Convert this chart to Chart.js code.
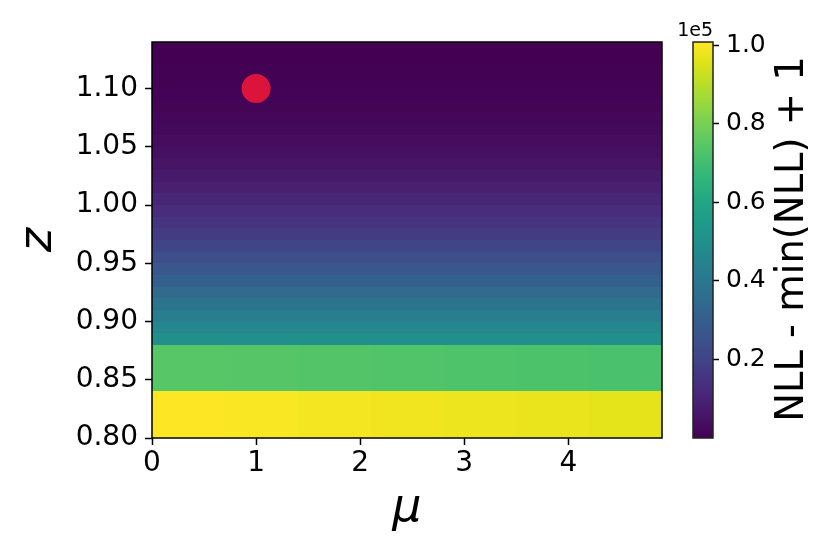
<!DOCTYPE html>
<html>
<head>
<meta charset="utf-8">
<script src="https://cdn.jsdelivr.net/npm/chart.js@4/dist/chart.umd.min.js"></script>
<style>
  html, body { margin: 0; padding: 0; background: #ffffff; }
  #wrap { position: relative; width: 830px; height: 554px; }
  canvas { position: absolute; left: 0; top: 0; }
</style>
</head>
<body>
<div id="wrap">
  <canvas id="main" width="830" height="554"></canvas>
  <canvas id="cbar" width="830" height="554"></canvas>
</div>
<script>
// ---------------- data ----------------
const muEdges = [0, 0.7, 1.4, 2.1, 2.8, 3.5, 4.2, 4.9];
const zEdges = [0.80, 0.84, 0.88, 0.89, 0.90, 0.91, 0.92, 0.93, 0.94, 0.95, 0.96, 0.97,
                0.98, 0.99, 1.00, 1.01, 1.02, 1.03, 1.04, 1.05, 1.06, 1.07, 1.08, 1.09,
                1.10, 1.11, 1.12, 1.13, 1.14];
// NLL - min(NLL) + 1 for the two wide bands (one value per mu column)
const nllRow080 = [100800, 100200, 99500, 98800, 98100, 97400, 96800];
const nllRow084 = [74100, 73800, 73400, 73000, 72600, 72200, 71700];
// rows from z = 0.88 up to 1.13 (uniform along mu)
const nllUpperRows = [49900, 46600, 42800, 38800, 34800, 30700, 27200, 23700, 20700, 17600,
                      15100, 12800, 10600, 8700, 7000, 5400, 4100, 3100, 2300, 1600,
                      1000, 600, 300, 150, 50, 1];
const cbMin = 1;
const cbMax = 100800;
const markerMu = [1.0];
const markerZ = [1.10];
const xTicks = [0, 1, 2, 3, 4];
const xTickLabels = ['0', '1', '2', '3', '4'];
const yTicks = [0.80, 0.85, 0.90, 0.95, 1.00, 1.05, 1.10];
const yTickLabels = ['0.80', '0.85', '0.90', '0.95', '1.00', '1.05', '1.10'];
const cbTicks = [20000, 40000, 60000, 80000, 100000];
const cbTickLabels = ['0.2', '0.4', '0.6', '0.8', '1.0'];
const xTitle = 'μ';
const yTitle = 'z';
const cbTitle = 'NLL - min(NLL) + 1';
const cbOffsetText = '1e5';

// ---------------- colormap ----------------
const viridisStops = ['#440154', '#471365', '#482475', '#463480', '#414487', '#3b528b',
  '#355f8d', '#2f6c8e', '#2a788e', '#25848e', '#21918c', '#1e9c89', '#22a884', '#2fb47c',
  '#44bf70', '#5ec962', '#7ad151', '#9bd93c', '#bddf26', '#dfe318', '#fde725'];
function hexToRgb(h) {
  return [parseInt(h.slice(1, 3), 16), parseInt(h.slice(3, 5), 16), parseInt(h.slice(5, 7), 16)];
}
const viridisRgb = viridisStops.map(hexToRgb);
function viridis(t) {
  t = Math.max(0, Math.min(1, t));
  const n = viridisRgb.length - 1;
  const p = t * n;
  const i = Math.min(n - 1, Math.floor(p));
  const f = p - i;
  const a = viridisRgb[i], b = viridisRgb[i + 1];
  const c = [0, 1, 2].map(k => Math.round(a[k] + (b[k] - a[k]) * f));
  return 'rgb(' + c.join(',') + ')';
}
function colorFor(v) { return viridis((v - cbMin) / (cbMax - cbMin)); }

// build grid rows
const gridRows = [];
for (let r = 0; r < zEdges.length - 1; r++) {
  let vals;
  if (r === 0) vals = nllRow080;
  else if (r === 1) vals = nllRow084;
  else vals = muEdges.slice(0, -1).map(() => nllUpperRows[r - 2]);
  gridRows.push(vals);
}

Chart.defaults.font.family = "'DejaVu Sans', 'Noto Sans', sans-serif";
Chart.defaults.color = '#000';

const heatmapPlugin = {
  id: 'heatmap',
  beforeDatasetsDraw(chart) {
    const { ctx, scales: { x, y } } = chart;
    ctx.save();
    for (let r = 0; r < gridRows.length; r++) {
      const yTop = Math.round(y.getPixelForValue(zEdges[r + 1]));
      const yBot = Math.round(y.getPixelForValue(zEdges[r]));
      for (let c = 0; c < muEdges.length - 1; c++) {
        const xl = Math.round(x.getPixelForValue(muEdges[c]));
        const xr = Math.round(x.getPixelForValue(muEdges[c + 1]));
        ctx.fillStyle = colorFor(gridRows[r][c]);
        ctx.fillRect(xl, yTop, xr - xl, yBot - yTop);
      }
    }
    ctx.restore();
  },
  afterDatasetsDraw(chart) {
    const { ctx, chartArea: a } = chart;
    ctx.save();
    ctx.strokeStyle = '#000';
    ctx.lineWidth = 1.5;
    ctx.strokeRect(a.left, a.top, a.right - a.left, a.bottom - a.top);
    ctx.restore();
  }
};

new Chart(document.getElementById('main'), {
  type: 'scatter',
  data: {
    datasets: [{
      data: markerMu.map((m, i) => ({ x: m, y: markerZ[i] })),
      backgroundColor: '#dc143c',
      borderWidth: 0,
      pointRadius: 14.5,
      pointHoverRadius: 14.5
    }]
  },
  options: {
    responsive: false,
    animation: false,
    events: [],
    layout: { padding: { left: 0, top: 42, right: 168, bottom: 0 } },
    plugins: { legend: { display: false }, tooltip: { enabled: false } },
    scales: {
      x: {
        type: 'linear', min: 0, max: 4.9,
        afterFit: s => { s.height = 116; },
        afterBuildTicks: s => { s.ticks = xTicks.map(v => ({ value: v })); },
        ticks: {
          callback: (v, i) => xTickLabels[i],
          font: { size: 28, lineHeight: 1 }, color: '#000', padding: 5,
          maxRotation: 0, autoSkip: false
        },
        grid: { drawOnChartArea: false, drawTicks: true, tickLength: 7, tickColor: '#000', tickWidth: 1.5, color: '#000' },
        border: { display: false },
        title: {
          display: true, text: xTitle, color: '#000',
          font: { size: 46, style: 'italic', lineHeight: 1 },
          padding: { top: 0, bottom: 22 }
        }
      },
      y: {
        type: 'linear', min: 0.80, max: 1.14,
        afterFit: s => { s.width = 152; },
        afterBuildTicks: s => { s.ticks = yTicks.map(v => ({ value: v })); },
        ticks: {
          callback: (v, i) => yTickLabels[i],
          font: { size: 28, lineHeight: 1 }, color: '#000', padding: 7, autoSkip: false
        },
        grid: { drawOnChartArea: false, drawTicks: true, tickLength: 7, tickColor: '#000', tickWidth: 1.5, color: '#000' },
        border: { display: false },
        title: {
          display: true, text: yTitle, color: '#000',
          font: { size: 46, style: 'italic', lineHeight: 1 },
          padding: { top: 16, bottom: 0 }
        }
      }
    }
  },
  plugins: [heatmapPlugin]
});

const colorbarPlugin = {
  id: 'colorbar',
  beforeDatasetsDraw(chart) {
    const { ctx, chartArea: a, scales: { y } } = chart;
    const y0 = y.getPixelForValue(cbMin);
    const y1 = y.getPixelForValue(cbMax);
    const g = ctx.createLinearGradient(0, y0, 0, y1);
    viridisStops.forEach((c, i) => g.addColorStop(i / (viridisStops.length - 1), c));
    ctx.save();
    ctx.fillStyle = g;
    ctx.fillRect(a.left, a.top, a.right - a.left, a.bottom - a.top);
    ctx.strokeStyle = '#222';
    ctx.lineWidth = 1.5;
    ctx.strokeRect(a.left, a.top, a.right - a.left, a.bottom - a.top);
    // offset text
    ctx.fillStyle = '#000';
    ctx.font = "19px 'DejaVu Sans'";
    ctx.textAlign = 'right';
    ctx.textBaseline = 'alphabetic';
    ctx.fillText(cbOffsetText, a.right, a.top - 6.5);
    // colorbar label
    ctx.translate(803, (a.top + a.bottom) / 2 - 1);
    ctx.rotate(-Math.PI / 2);
    ctx.textAlign = 'center';
    ctx.font = "38.5px 'DejaVu Sans'";
    ctx.fillText(cbTitle, 0, 0);
    ctx.restore();
  }
};

new Chart(document.getElementById('cbar'), {
  type: 'scatter',
  data: { datasets: [{ data: [] }] },
  options: {
    responsive: false,
    animation: false,
    events: [],
    layout: { padding: { left: 693, top: 42, right: 0, bottom: 116 } },
    plugins: { legend: { display: false }, tooltip: { enabled: false } },
    scales: {
      x: { type: 'linear', display: false, min: 0, max: 1 },
      y: {
        type: 'linear', position: 'right', min: cbMin, max: cbMax,
        afterFit: s => { s.width = 117; },
        afterBuildTicks: s => { s.ticks = cbTicks.map(v => ({ value: v })); },
        ticks: {
          callback: (v, i) => cbTickLabels[i],
          font: { size: 25, lineHeight: 1 }, color: '#000', padding: 7, autoSkip: false
        },
        grid: { drawOnChartArea: false, drawTicks: true, tickLength: 6, tickColor: '#000', tickWidth: 1.5, color: '#000' },
        border: { display: false }
      }
    }
  },
  plugins: [colorbarPlugin]
});
</script>
</body>
</html>
